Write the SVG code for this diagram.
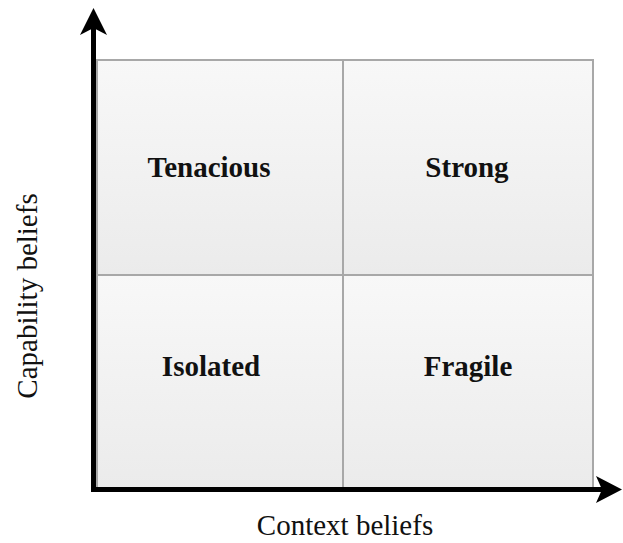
<svg xmlns="http://www.w3.org/2000/svg" width="623" height="543" viewBox="0 0 623 543">
  <style>
    .cell { stroke: #a8a8a8; stroke-width: 2; fill: url(#cellGrad); }
    .q { font-family: "Liberation Serif", "Times New Roman", serif; font-weight: bold; font-size: 29px; fill: #111; text-anchor: middle; }
    .ax { font-family: "Liberation Serif", "Times New Roman", serif; font-size: 29px; fill: #111; text-anchor: middle; }
    .axis { stroke: #000; stroke-width: 5; fill: none; }
  </style>
  <defs>
    <linearGradient id="cellGrad" x1="0" y1="0" x2="0" y2="1">
      <stop offset="0" stop-color="#f8f8f8"/>
      <stop offset="1" stop-color="#ebebeb"/>
    </linearGradient>
  </defs>
  <rect width="623" height="543" fill="#fff"/>
  <g id="tenacious">
    <rect class="cell" x="97" y="60" width="246" height="215"/>
    <text class="q" x="209" y="177">Tenacious</text>
  </g>
  <g id="strong">
    <rect class="cell" x="343" y="60" width="250" height="215"/>
    <text class="q" x="467" y="177">Strong</text>
  </g>
  <g id="isolated">
    <rect class="cell" x="97" y="275" width="246" height="214"/>
    <text class="q" x="211" y="376">Isolated</text>
  </g>
  <g id="fragile">
    <rect class="cell" x="343" y="275" width="250" height="214"/>
    <text class="q" x="468" y="376">Fragile</text>
  </g>
  <g id="connectors">
    <path class="axis" d="M93.5,492 V26"/>
    <path d="M93.5,8 L107,35 L93.5,28 L80,35 Z" fill="#000"/>
    <path class="axis" d="M91,489.5 H606"/>
    <path d="M622,489.5 L596,503 L602,489.5 L596,476 Z" fill="#000"/>
  </g>
  <g id="labels">
    <text class="ax" transform="translate(37,296) rotate(-90)">Capability beliefs</text>
    <text class="ax" x="345" y="535">Context beliefs</text>
  </g>
</svg>
